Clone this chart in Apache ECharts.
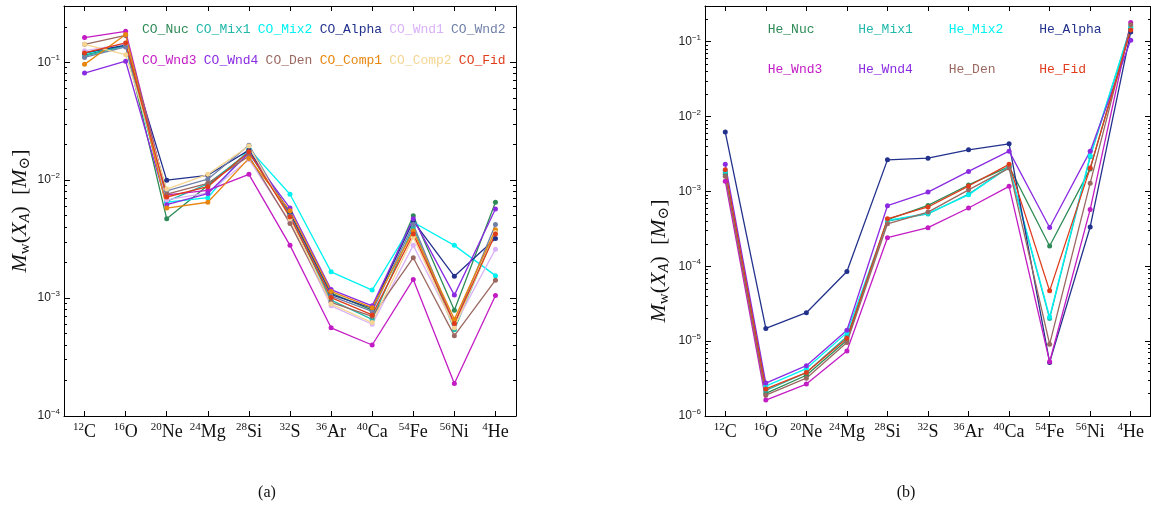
<!DOCTYPE html>
<html>
<head>
<meta charset="utf-8">
<script src="https://cdn.jsdelivr.net/npm/echarts@6/dist/echarts.min.js"></script>
<style>html,body{margin:0;padding:0;background:#fff}#c{width:1151px;height:505px}</style>
</head>
<body>
<div id="c"></div>
<script>
// ---- categories / tick labels ----
const massNumbers = ['12','16','20','24','28','32','36','40','54','56','4'];
const elements    = ['C','O','Ne','Mg','Si','S','Ar','Ca','Fe','Ni','He'];
const categories  = massNumbers.map((m, i) => m + elements[i]);
const yTicksA = [1e-4, 1e-3, 1e-2, 1e-1];
const yTicksB = [1e-6, 1e-5, 1e-4, 1e-3, 1e-2, 1e-1];

// ---- panel (a): CO models ----
const CO_Nuc   = [0.115, 0.140, 0.0047, 0.0090, 0.0175, 0.0052, 0.00110, 0.00079, 0.0050, 0.00079, 0.0065];
const CO_Mix1  = [0.113, 0.138, 0.0066, 0.0093, 0.0172, 0.0050, 0.00096, 0.00066, 0.0040, 0.00054, 0.0037];
const CO_Mix2  = [0.118, 0.142, 0.0065, 0.0071, 0.0185, 0.0076, 0.00167, 0.00117, 0.0044, 0.0028, 0.00155];
const CO_Alpha = [0.120, 0.140, 0.0100, 0.0110, 0.0180, 0.0053, 0.00107, 0.00082, 0.0045, 0.00153, 0.0032];
const CO_Wnd1  = [0.125, 0.143, 0.0068, 0.0078, 0.0150, 0.0044, 0.00086, 0.00060, 0.0028, 0.00058, 0.0026];
const CO_Wnd2  = [0.110, 0.135, 0.0081, 0.0102, 0.0198, 0.0050, 0.00104, 0.00077, 0.0042, 0.00060, 0.0042];
const CO_Wnd3  = [0.162, 0.183, 0.0075, 0.0082, 0.0112, 0.0028, 0.00056, 0.00040, 0.00144, 0.000189, 0.00105];
const CO_Wnd4  = [0.081, 0.102, 0.0062, 0.0077, 0.0170, 0.0058, 0.00118, 0.00086, 0.0047, 0.00106, 0.0057];
const CO_Den   = [0.142, 0.169, 0.0076, 0.0094, 0.0160, 0.0043, 0.00092, 0.00070, 0.0022, 0.00048, 0.00142];
const CO_Comp1 = [0.096, 0.172, 0.0058, 0.0065, 0.0153, 0.0055, 0.00114, 0.00083, 0.0037, 0.00066, 0.0038];
const CO_Comp2 = [0.142, 0.116, 0.0084, 0.0112, 0.0195, 0.0047, 0.00089, 0.00062, 0.0033, 0.00056, 0.0036];
const CO_Fid   = [0.120, 0.146, 0.0072, 0.0088, 0.0174, 0.0049, 0.00101, 0.00072, 0.0035, 0.00061, 0.0035];

// ---- panel (b): He models ----
const He_Nuc   = [0.0017, 2.0e-6, 3.5e-6, 1.03e-5, 4.2e-4, 6.5e-4, 1.22e-3, 2.15e-3, 1.87e-4, 2.0e-3, 0.150];
const He_Mix1  = [0.0018, 2.2e-6, 3.8e-6, 1.15e-5, 4.0e-4, 5.0e-4, 9.2e-4, 2.10e-3, 2.0e-5, 2.9e-3, 0.155];
const He_Mix2  = [0.0019, 2.5e-6, 4.3e-6, 1.30e-5, 4.1e-4, 5.1e-4, 9.0e-4, 2.15e-3, 2.1e-5, 3.0e-3, 0.160];
const He_Alpha = [0.0062, 1.48e-5, 2.4e-5, 8.5e-5, 2.64e-3, 2.78e-3, 3.6e-3, 4.33e-3, 5.2e-6, 3.35e-4, 0.135];
const He_Wnd3  = [0.00137, 1.63e-6, 2.67e-6, 7.4e-6, 2.41e-4, 3.28e-4, 6.0e-4, 1.17e-3, 5.3e-6, 5.75e-4, 0.180];
const He_Wnd4  = [0.0023, 2.75e-6, 4.7e-6, 1.40e-5, 6.45e-4, 9.8e-4, 1.85e-3, 3.45e-3, 3.3e-4, 3.45e-3, 0.105];
const He_Den   = [0.0016, 1.9e-6, 3.2e-6, 9.6e-6, 3.7e-4, 5.3e-4, 1.05e-3, 2.05e-3, 9.1e-6, 1.29e-3, 0.168];
const He_Fid   = [0.00195, 2.3e-6, 3.8e-6, 1.09e-5, 4.3e-4, 6.2e-4, 1.18e-3, 2.30e-3, 4.7e-5, 2.05e-3, 0.143];

const colors = {
  Nuc: '#2e8b57', Mix1: '#20b8aa', Mix2: '#00f2f2', Alpha: '#22318c',
  Wnd1: '#d9b2f7', Wnd2: '#7080a8', Wnd3: '#c31cc4', Wnd4: '#8a2be2',
  Den: '#9a6860', Comp1: '#e8860e', Comp2: '#f4d592', Fid: '#e03c1c'
};

const coSeries = [
  ['CO_Nuc', CO_Nuc, 'Nuc'], ['CO_Mix1', CO_Mix1, 'Mix1'], ['CO_Mix2', CO_Mix2, 'Mix2'],
  ['CO_Alpha', CO_Alpha, 'Alpha'], ['CO_Wnd1', CO_Wnd1, 'Wnd1'], ['CO_Wnd2', CO_Wnd2, 'Wnd2'],
  ['CO_Wnd3', CO_Wnd3, 'Wnd3'], ['CO_Wnd4', CO_Wnd4, 'Wnd4'], ['CO_Den', CO_Den, 'Den'],
  ['CO_Comp1', CO_Comp1, 'Comp1'], ['CO_Comp2', CO_Comp2, 'Comp2'], ['CO_Fid', CO_Fid, 'Fid']
];
const heSeries = [
  ['He_Nuc', He_Nuc, 'Nuc'], ['He_Mix1', He_Mix1, 'Mix1'], ['He_Mix2', He_Mix2, 'Mix2'],
  ['He_Alpha', He_Alpha, 'Alpha'], ['He_Wnd3', He_Wnd3, 'Wnd3'], ['He_Wnd4', He_Wnd4, 'Wnd4'],
  ['He_Den', He_Den, 'Den'], ['He_Fid', He_Fid, 'Fid']
];

function minorTicks(majors) {
  const out = [];
  majors.forEach(m => { for (let k = 2; k <= 9; k++) out.push(+(k * m).toPrecision(3)); });
  return out;
}

const serif = '"Liberation Serif", "DejaVu Serif", serif';
const mono = '"Liberation Mono", "DejaVu Sans Mono", monospace';
const sans = '"Liberation Sans", Arial, sans-serif';

const catLabel = {
  show: true, margin: 6, color: '#111', interval: 0,
  formatter: (v, i) => '{s|' + massNumbers[i] + '}{e|' + elements[i] + '}',
  rich: {
    s: { fontFamily: serif, fontSize: 11, lineHeight: 12, verticalAlign: 'top', color: '#111' },
    e: { fontFamily: serif, fontSize: 18, lineHeight: 20, color: '#111' }
  }
};
const yLabelRich = {
  b: { fontFamily: sans, fontSize: 12, lineHeight: 16, color: '#222' },
  x: { fontFamily: sans, fontSize: 8, lineHeight: 10, verticalAlign: 'top', color: '#222' }
};
function yFmt(v) {
  const e = Math.round(Math.log10(v));
  return '{b|10}{x|' + (e < 0 ? '\u2212' : '') + Math.abs(e) + '}';
}
const yName = '{i|M}{sub|w}{n|(}{i|X}{subi|A}{n|)  [}{i|M}{sub|\u2299}{n|]}';
function yNameStyle(padding) {
  return {
    color: '#111', padding,
    rich: {
      i: { fontFamily: serif, fontStyle: 'italic', fontSize: 22, lineHeight: 26 },
      n: { fontFamily: serif, fontSize: 22, lineHeight: 26 },
      sub: { fontFamily: serif, fontSize: 15, lineHeight: 18, verticalAlign: 'bottom' },
      subi: { fontFamily: serif, fontStyle: 'italic', fontSize: 15, lineHeight: 18, verticalAlign: 'bottom' }
    }
  };
}

const axisLineStyle = { show: true, lineStyle: { color: '#000', width: 1 } };

function xAxesFor(gridIndex) {
  const tick = { show: true, inside: true, alignWithLabel: true, interval: 0, length: 5, lineStyle: { color: '#000', width: 1 } };
  return [
    { type: 'category', gridIndex, data: categories, boundaryGap: true, position: 'bottom',
      axisLine: axisLineStyle, axisTick: tick, axisLabel: catLabel, splitLine: { show: false } },
    { type: 'category', gridIndex, data: categories, boundaryGap: true, position: 'top',
      axisLine: axisLineStyle, axisTick: tick, axisLabel: { show: false }, splitLine: { show: false } }
  ];
}
function yAxesFor(gridIndex, min, max, majors, nameGap, namePad) {
  const minors = minorTicks(majors);
  const base = { type: 'log', logBase: 10, gridIndex, min, max, splitLine: { show: false }, minorTick: { show: false } };
  const maj = { show: true, inside: true, length: 6, customValues: majors, lineStyle: { color: '#000', width: 1 } };
  const mnr = { show: true, inside: true, length: 3, customValues: minors, lineStyle: { color: '#000', width: 1 } };
  return [
    Object.assign({}, base, { position: 'left', axisLine: axisLineStyle, axisTick: maj,
      axisLabel: { show: true, customValues: majors, formatter: yFmt, rich: yLabelRich, margin: 4 },
      name: yName, nameLocation: 'middle', nameGap, nameTextStyle: yNameStyle(namePad) }),
    Object.assign({}, base, { position: 'right', axisLine: axisLineStyle, axisTick: maj,
      axisLabel: { show: false } }),
    Object.assign({}, base, { position: 'left', axisLine: { show: false }, axisTick: mnr,
      axisLabel: { show: false } }),
    Object.assign({}, base, { position: 'right', axisLine: { show: false }, axisTick: mnr,
      axisLabel: { show: false } })
  ];
}

function mkSeries(list, xIdx, yIdx) {
  return list.map(([name, data, key]) => ({
    name, type: 'line', data, xAxisIndex: xIdx, yAxisIndex: yIdx,
    symbol: 'circle', symbolSize: 5, showSymbol: true,
    lineStyle: { width: 1.3, color: colors[key] }, itemStyle: { color: colors[key] },
    emphasis: { disabled: true }, animation: false
  }));
}

function mkLegend(names, keys, left, top, itemGap, width) {
  const rich = {};
  names.forEach((n, i) => {
    rich['k' + i] = { color: colors[keys[i]], fontFamily: mono, fontSize: 13, lineHeight: 14 };
    if (width) rich['k' + i].width = width;
  });
  return {
    left, top, padding: 0, orient: 'horizontal', itemWidth: 0, itemHeight: 14, itemGap,
    icon: 'rect', selectedMode: false, data: names,
    itemStyle: { opacity: 0 },
    formatter: name => '{k' + names.indexOf(name) + '|' + name + '}',
    textStyle: { fontFamily: mono, fontSize: 13, rich }
  };
}

const coNames = coSeries.map(s => s[0]);
const coKeys = coSeries.map(s => s[2]);
const heNames = heSeries.map(s => s[0]);
const heKeys = heSeries.map(s => s[2]);

const option = {
  backgroundColor: '#fff',
  animation: false,
  grid: [
    { left: 64, top: 6, width: 452, height: 410, containLabel: false },
    { left: 705, top: 6, width: 452, height: 410, containLabel: false }
  ],
  xAxis: [...xAxesFor(0), ...xAxesFor(1)],
  yAxis: [...yAxesFor(0, 1e-4, 0.3, yTicksA, 31, [0, 0, 0, 0]), ...yAxesFor(1, 1e-6, 0.3, yTicksB, 33, [0, 100, 0, 0])],
  legend: [
    mkLegend(coNames.slice(0, 6), coKeys.slice(0, 6), 137, 23, 2.2),
    mkLegend(coNames.slice(6), coKeys.slice(6), 137, 54, 2.2),
    mkLegend(heNames.slice(0, 4), heKeys.slice(0, 4), 762.7, 23, 0, 85.5),
    mkLegend(heNames.slice(4), heKeys.slice(4), 762.7, 63, 0, 85.5)
  ],
  series: [...mkSeries(coSeries, 0, 0), ...mkSeries(heSeries, 2, 4)],
  graphic: [
    { type: 'line', shape: { x1: 1150.5, y1: 6, x2: 1150.5, y2: 416 }, style: { stroke: '#000', lineWidth: 1 }, silent: true },
    { type: 'text', x: 267, y: 493, style: { text: '(a)', font: '16px ' + serif, fill: '#111', textAlign: 'center', textVerticalAlign: 'middle' } },
    { type: 'text', x: 906, y: 493, style: { text: '(b)', font: '16px ' + serif, fill: '#111', textAlign: 'center', textVerticalAlign: 'middle' } }
  ]
};

const chart = echarts.init(document.getElementById('c'), null, { renderer: 'canvas' });
chart.setOption(option);
</script>
</body>
</html>
